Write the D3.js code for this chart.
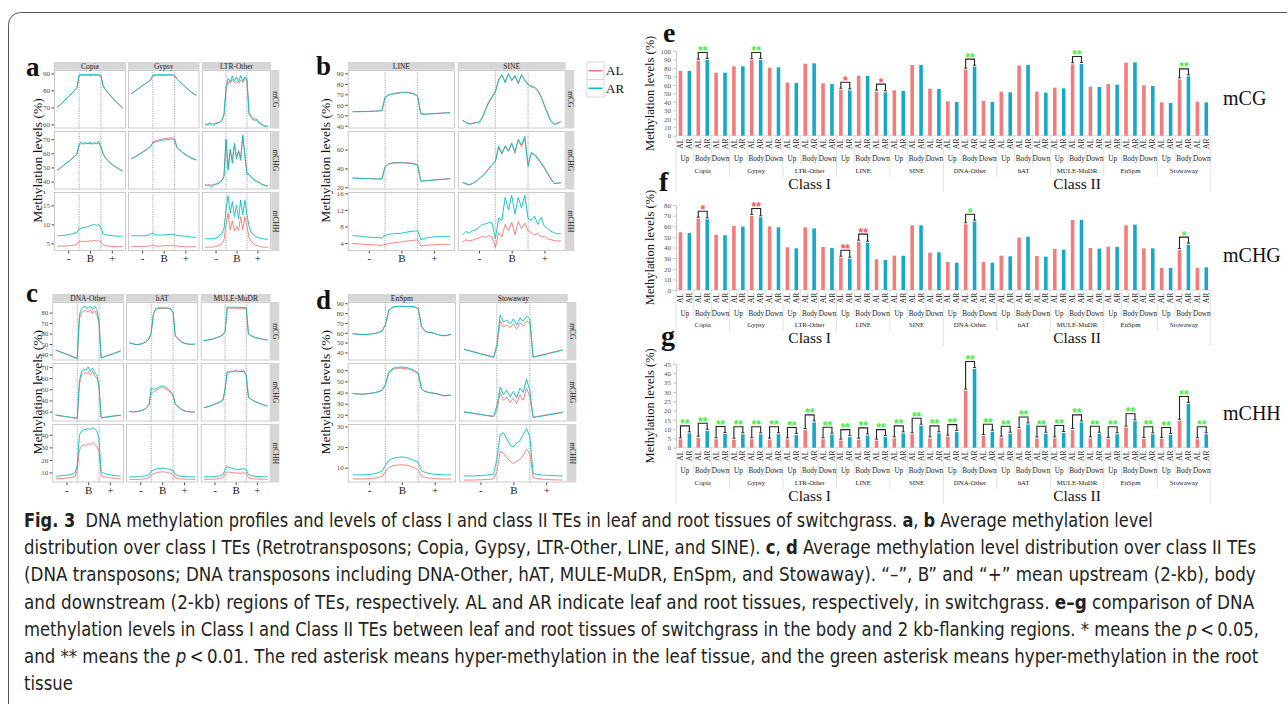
<!DOCTYPE html>
<html>
<head>
<meta charset="utf-8">
<script src="https://cdn.jsdelivr.net/npm/d3@7"></script>
<style>
body { margin: 0; background: #fff; }
svg { display: block; }
</style>
</head>
<body>
<script>
// ---- categories ----
const contexts = ['mCG', 'mCHG', 'mCHH']
const tissues = ['AL', 'AR']
const regions = ['Up', 'Body', 'Down']
const teNames = ['Copia', 'Gypsy', 'LTR-Other', 'LINE', 'SINE', 'DNA-Other', 'hAT', 'MULE-MuDR', 'EnSpm', 'Stowaway']
const classes = ['Class I', 'Class II']
const profileTicks = ['-', 'B', '+']

// ---- profile tick labels (per row) ----
const ticksA = [[60, 70, 80, 90], [40, 50, 60, 70], [5, 10, 15]]
const ticksB = [[40, 50, 60, 70, 80, 90], [20, 40, 60], [4, 8, 12, 16]]
const ticksC = [[40, 50, 60, 70, 80], [30, 40, 50, 60, 70], [10, 20, 30, 40]]
const ticksD = [[40, 50, 60, 70, 80, 90], [20, 30, 40, 50, 60], [10, 20, 30]]

// ---- methylation profiles (upstream | body | downstream) ----
const copia_CG_AL = [70,71.1,72.3,73.5,74.8,76,77.3,78.6,79.9,81.5,88.5,88.8,88.9,88.8,88.9,88.7,88.8,88.9,88.7,88.8,88.3,82.5,80.5,78.8,77.3,75.9,74.5,73.2,71.9,70.7,69.5]
const copia_CG_AR = [70.2,71.2,72.4,73.6,74.9,76.1,77.4,78.7,80,81.6,89,89.3,89.5,89.2,89.6,89.3,89.4,89.6,89.2,89.5,88.8,82.8,80.7,79,77.5,76,74.6,73.3,72,70.8,69.6]
const copia_CHG_AL = [48,49,50.2,51.5,52.8,54,55.3,56.6,57.8,59.3,66,67,66.5,67.2,66.8,67,66.6,67.1,66.7,67.3,65,59.5,57,55,53.5,52.2,51,50,49,48.2,47.5]
const copia_CHG_AR = [48.2,49.1,50.4,51.7,53,54.2,55,56.8,58,59.5,66.5,68,66.8,67.5,67,67.8,66.5,67.6,66.9,68.8,64,60,57.2,55.2,53.7,52.4,51.2,50.2,49.2,48.4,47.6]
const copia_CHH_AL = [4.3,4.3,4.3,4.3,4.3,4.4,4.4,4.5,4.6,4.8,5.4,5.5,5.5,5.6,5.5,5.7,5.6,5.8,5.6,5.7,5.3,4.6,4.4,4.3,4.3,4.2,4.2,4.2,4.2,4.2,4.2]
const copia_CHH_AR = [7,7,7.1,7.1,7.2,7.3,7.4,7.5,7.7,7.9,8.8,9,9.2,9.1,9.5,9.6,9.8,10,9.7,10,9.2,7.5,7.3,7.2,7.1,7,7,6.9,6.9,6.9,6.9]

const gypsy_CG_AL = [78,78.9,79.8,80.7,81.6,82.5,83.4,84.3,85.2,86.2,88.7,88.9,88.8,88.9,88.8,88.9,88.8,88.9,88.9,88.8,88.5,86.8,85.5,84.3,83.1,81.9,80.8,79.7,78.7,77.8,77]
const gypsy_CG_AR = [78.1,79,79.9,80.8,81.7,82.6,83.5,84.4,85.3,86.3,89,89.2,89.1,89.3,89.2,89.2,89.1,89.3,89.2,89.2,88.8,86.9,85.6,84.4,83.2,82,80.9,79.8,78.8,77.9,77.1]
const gypsy_CHG_AL = [56.2,57,57.9,58.8,59.8,60.8,61.8,62.8,63.9,65.2,68,68.8,69.2,69.6,70,70.3,70.6,70.8,70.9,71,70.5,64.8,63,61.7,60.5,59.4,58.4,57.5,56.7,56,55.5]
const gypsy_CHG_AR = [56,56.8,57.6,58.5,59.5,60.5,61.5,62.5,63.5,64.8,67.5,68,68.4,68.8,69.1,69.4,69.6,69.8,69.9,70,69.5,64.3,62.6,61.3,60.1,59,58,57.1,56.3,55.7,55.2]
const gypsy_CHH_AL = [4.2,4.2,4.2,4.2,4.2,4.2,4.2,4.2,4.3,4.4,4.6,4.3,4.3,4.3,4.3,4.4,4.4,4.4,4.4,4.4,4.4,4.3,4.2,4.2,4.2,4.1,4.1,4.1,4.1,4.1,4.1]
const gypsy_CHH_AR = [7,7,7,7,7,7,7,7.1,7.2,7.4,7.8,7.3,7.2,7.2,7.2,7.2,7.3,7.3,7.4,7.4,7.3,7.1,7,7,6.9,6.9,6.8,6.7,6.7,6.6,6.6]

const ltr_CG_AL = [60.5,60,61,60.3,60.2,60.8,61,61.5,62.5,65,80,85,84,86.5,84.5,85,84.2,86,84.5,87,86,67,65,63.5,62,63,61,60.5,59.5,59.2,59]
const ltr_CG_AR = [60,59.5,60.5,60,59.3,60.5,60.8,61.2,62.3,66,82,87,85,88.5,85.5,88,85,88.7,85.5,88,86.5,66,64,62.5,63.5,62,60.5,60,59,58.8,59]
const ltr_CHG_AL = [38,37.5,37.8,37.5,38,38.3,38.8,39.5,41,44,69,50,62,55,66,58,61,57,72,60,47,45,43.5,42,41,40,39.5,38.5,37.8,37.3,37]
const ltr_CHG_AR = [37.8,37.2,37.5,36,37.6,38,38.4,39.2,40.6,43.5,70,48,63,53,67,56,62,55,73,58,45,44.8,43,41.5,40.5,39.5,39,38,37.5,37,36.8]
const ltr_CHH_AL = [4,4,4,4,4.1,4.2,4.3,4.6,5,5.8,10,13,8.5,11,8.2,9.5,8.4,12,8.6,12,9.5,6.5,5.5,5,4.6,4.4,4.2,4.1,4,4,3.9]
const ltr_CHH_AR = [6.2,6.2,6.2,6.2,6.3,6.4,6.6,7,7.6,8.8,14,17.5,13,16,12,15,11.5,16.4,12.5,16.3,12.5,9.5,8,7.3,6.9,6.6,6.4,6.3,6.2,6.1,6.1]

const line_CG_AL = [53.5,53.5,53.6,53.6,53.7,53.8,53.9,54,54.2,54.5,67.5,69.5,70.5,71,71.5,72,72.2,72,71.5,70.5,68.5,51.5,51.2,51.3,51.5,51.7,51.9,52.1,52.3,52.5,52.6]
const line_CG_AR = [53.4,53.4,53.5,53.5,53.6,53.7,53.8,53.9,54.1,54.4,67,69,70,70.6,71,71.4,71.6,71.4,71,70,68,51.3,51,51.1,51.3,51.5,51.7,51.9,52.1,52.3,52.4]
const line_CHG_AL = [29.8,29.7,29.5,29.4,29.3,29.2,29.1,29,28.9,28.8,42,45,45.8,46.2,46.3,46.3,46.2,46,45.6,45,44,26.5,26.8,27.1,27.4,27.7,28,28.3,28.6,28.9,29.2]
const line_CHG_AR = [29.7,29.6,29.4,29.3,29.2,29.1,29,28.9,28.8,28.7,41.5,44.5,45.3,45.7,45.8,45.8,45.7,45.5,45.1,44.5,43.5,26.4,26.7,27,27.3,27.6,27.9,28.2,28.5,28.8,29.1]
const line_CHH_AL = [3.9,3.85,3.8,3.75,3.7,3.65,3.6,3.55,3.5,3.45,3.7,3.9,4,4.1,4.2,4.3,4.4,4.5,4.6,4.7,4.8,3.3,3.4,3.5,3.55,3.6,3.65,3.7,3.7,3.7,3.7]
const line_CHH_AR = [5.8,5.75,5.7,5.6,5.5,5.45,5.4,5.35,5.3,5.25,5.8,6.1,6.2,6.3,6.3,6.4,6.5,6.7,6.8,6.9,7,4.8,5.1,5.3,5.4,5.5,5.5,5.6,5.6,5.6,5.5]

const sine_CG_AL = [45,43,42,42.5,43,43.5,48,56,63,68,73,85,88,82,89,84,87,81,88,84,80,78,77,74,68,60,52,45,42,43,44]
const sine_CG_AR = [45,43.5,41.5,42,43,43,47,55,62,67,72,83,89,81,90,83,88,80,89,83,79,77,76,73,67,59,51,44,41,42,43.5]
const sine_CHG_AL = [25,24,22.5,24,26,29,32,36,40,44,48,62,55,63,58,66,56,70,63,72,45,56,54,50,45,40,34,28,24,24.5,25]
const sine_CHG_AR = [25,23.5,22.5,24,26,29,31.5,35,39,43.5,47,64,56,64,59,67,58,71,65,74,42,57,55,51,46,41,35,29,24,24.2,24.5]
const sine_CHH_AL = [4.3,4.8,4.5,4.7,5,5.2,5.6,5.4,5.8,5.5,3,6.5,5.5,8.5,7,9,6,9.2,7.5,8.8,7,6.5,6,6.3,5.5,5.6,5,4.8,4.6,4.5,4.6]
const sine_CHH_AR = [6,6.8,6.4,7,7.2,7.8,8.5,8.6,9,8.8,5,10,9.5,15,12,15.5,11,15,12.5,15.5,10,9.5,10.5,8.5,10.2,8,7.5,6.8,6.5,6.2,6.3]

const dna_CG_AL = [44.5,43.7,42.9,42.1,41.3,40.5,39.7,38.9,38.1,37.3,36.5,75,80,81.5,82,80.5,83,79,82,78,70,37,37.7,38.4,39.1,39.8,40.5,41.3,42.1,42.9,43.8]
const dna_CG_AR = [44,43.2,42.4,41.6,40.8,40,39.2,38.4,37.6,36.8,36,78,84,86,85.5,84,86.5,83,86,83,72,36.5,37.2,37.9,38.6,39.3,40,40.8,41.6,42.4,43.3]
const dna_CHG_AL = [26.8,26.5,26.2,25.9,25.6,25.3,25,24.7,24.4,24.1,24,55,63,65,64,66,63,66,62,60,52,24.2,24.5,24.8,25.1,25.4,25.7,26,26.2,26.4,26.5]
const dna_CHG_AR = [27,26.7,26.4,26.1,25.8,25.5,25.2,24.9,24.6,24.3,24.2,58,66,68,67,70,66,69,65,63,53,24.4,24.7,25,25.3,25.6,25.9,26.2,26.4,26.6,26.8]
const dna_CHH_AL = [5,5,5.1,5.2,5.3,5.5,5.7,5.9,6.2,6.6,12,28,31,32,31.5,33,32,33.5,32,31,26,7.5,6.8,6.3,6,5.7,5.5,5.3,5.2,5.1,5]
const dna_CHH_AR = [7,7.1,7.2,7.4,7.6,7.8,8.1,8.5,9,9.8,16,40,43,44,44.5,45,44,45.5,44.5,43,37,10.5,9.5,9,8.5,8.2,7.9,7.6,7.4,7.2,7]

const hat_CG_AL = [51,50.5,50,49.5,49.5,50,50.5,51.5,53,55,60,78,83,84,84,84,84,84,84,83,80,58,56,54,52,51,50.5,50,49.8,49.8,50]
const hat_CG_AR = [51.2,50.6,50,49.4,49.3,49.8,50.3,51.3,52.8,54.8,61,79,83.6,84.6,84.7,84.6,84.6,84.7,84.5,83.6,80.5,57.5,55.5,53.5,51.6,50.7,50.2,49.8,49.6,49.7,49.9]
const hat_CHG_AL = [30,29.8,29.7,29.8,30,30.5,31,32,33.5,35.5,46,48,49,50,51,51.5,51,50,48.5,46.5,44,36.5,34.5,33,31.5,30.5,30,29.8,29.6,29.5,29.5]
const hat_CHG_AR = [30.2,30,29.9,30,30.2,30.7,31.3,32.3,34,36.5,51,50,50.5,51.5,52.5,53,52.5,51.5,49.5,47.5,45,37,35,33.4,31.9,30.8,30.2,30,29.8,29.7,29.7]
const hat_CHH_AL = [4.5,4.5,4.5,4.5,4.5,4.6,4.7,4.9,5.2,5.7,8,9,9.5,10,10.3,10.5,10.4,10.2,9.8,9.3,8.5,5.8,5.3,5,4.8,4.7,4.6,4.5,4.5,4.5,4.5]
const hat_CHH_AR = [6.5,6.5,6.5,6.5,6.6,6.7,6.9,7.1,7.5,8.2,11,12,12.5,13,13.2,13.5,13.3,13,12.7,12.2,11.5,8.2,7.5,7.1,6.9,6.7,6.6,6.5,6.5,6.5,6.4]

const mule_CG_AL = [53.5,53.6,53.9,54.3,54.8,55.4,56.1,56.9,57.8,59,62,84.5,84.3,84.2,84.3,84.2,84.1,84.2,84,84,83.5,60,58.5,57.5,56.7,56,55.5,55,54.6,54.3,54]
const mule_CG_AR = [53.3,53.4,53.7,54.1,54.6,55.2,55.9,56.7,57.6,58.8,62,85.5,85.3,85.2,85.3,85.1,85.1,85.2,85,85,84.5,59.5,58,57,56.2,55.6,55.1,54.6,54.2,53.9,53.6]
const mule_CHG_AL = [33.5,34,34.6,35.2,35.9,36.6,37.4,38.2,39.2,40.5,50,65,66,65.5,66.5,67,66.5,66,67,66,62,43,41.5,40.3,39.3,38.4,37.6,36.9,36.2,35.6,35]
const mule_CHG_AR = [33.3,33.8,34.4,35,35.7,36.4,37.2,38,39,40.3,50,66,65,66.5,65.5,66.8,65.3,66.4,65.6,66.5,62,42.8,41.3,40.1,39.1,38.2,37.4,36.7,36,35.4,34.8]
const mule_CHH_AL = [4.5,4.5,4.5,4.6,4.6,4.7,4.8,5,5.3,5.8,8.5,10.5,10.2,10,9.8,9.6,9.5,9.4,9.5,9.8,9,5.8,5.3,5,4.9,4.8,4.7,4.6,4.6,4.5,4.5]
const mule_CHH_AR = [6.5,6.5,6.5,6.6,6.6,6.7,6.9,7.2,7.6,8.3,12,15,14,13.5,13,12.6,12.4,12.5,12.8,13,12,8.3,7.6,7.2,7,6.8,6.7,6.6,6.5,6.5,6.5]

const enspm_CG_AL = [59,58.8,58.5,58.3,58.3,58.5,59,59.5,60.5,62,68,82,85.5,86.3,86.5,86.5,86.4,86.3,86.3,86,84,66,61.5,60.3,60,59.2,58,57.2,57,57.5,58.3]
const enspm_CG_AR = [58.8,58.6,58.4,58.2,58.2,58.4,58.9,59.4,60.4,61.9,68.5,82.5,86,86.8,87,87,86.9,86.8,86.8,86.5,84.5,66.5,62,60.5,60.2,59.3,58.2,57.4,57.1,57.6,58.4]
const enspm_CHG_AL = [39,38.8,38.6,38.5,38.6,39,39.5,40,40.8,42,47,57,60.5,61.5,61.8,61.8,61.5,61,60,58.5,56.5,43,41,40,39.5,39.2,38.5,37.5,37,37.2,37.6]
const enspm_CHG_AR = [39.1,38.9,38.7,38.6,38.7,39.1,39.6,40.1,40.9,42.1,47.5,58,61.5,62.5,62.7,62.8,62.5,62,61,59.5,57.5,43.2,41.2,40.2,39.7,39.4,38.7,37.7,37.2,37.4,37.8]
const enspm_CHH_AL = [4.5,4.5,4.5,4.5,4.6,4.7,4.8,5,5.3,5.8,8,10,10.8,11.2,11.3,11.4,11.3,11,10.5,9.8,9,5.8,5.3,5,4.8,4.7,4.6,4.5,4.5,4.5,4.5]
const enspm_CHH_AR = [6.5,6.5,6.5,6.5,6.6,6.7,6.9,7.2,7.7,8.5,11,13.5,14.3,14.8,15,15.2,15,14.6,14,13.3,12.5,8.5,7.8,7.3,7,6.8,6.7,6.6,6.5,6.5,6.5]

const stow_CG_AL = [43.5,42.6,41.7,40.8,39.9,39,38.1,37.2,36.3,35.4,45,72,66,68,65,69,64,70,67,72,70,35.5,36.3,37.1,37.9,38.7,39.5,40.3,41.1,42,43]
const stow_CG_AR = [43,42.1,41.2,40.3,39.4,38.5,37.6,36.7,35.8,35,48,78,71,73,69,74,68,75,72,77,74,35,35.8,36.6,37.4,38.2,39,39.8,40.6,41.5,42.5]
const stow_CHG_AL = [22.5,22,21.6,21.1,20.6,20.2,19.7,19.2,18.8,18.3,24,40,33,36,31,35,30,38,33,44,36,18,18.5,19,19.5,20,20.5,21,21.5,22,22.5]
const stow_CHG_AR = [22.8,22.3,21.9,21.4,20.9,20.5,20,19.5,19.1,18.6,28,45,38,42,36,41,35,44,40,52,42,17.5,18,18.5,19,19.5,20,20.5,21,21.5,22]
const stow_CHH_AL = [4,4,4,4,4.1,4.1,4.2,4.3,4.4,4.6,8,18,17,15,13,12,13,14,16,19,17,5.2,4.8,4.5,4.4,4.3,4.2,4.1,4.1,4,4]
const stow_CHH_AR = [6,6,6,6,6.1,6.2,6.3,6.4,6.6,6.9,14,26,27,24,21,20,22,23,26,29,25,7.2,6.8,6.6,6.4,6.3,6.2,6.1,6.1,6,6]

// ---- bar levels (%), order: TE x (Up, Body, Down) ----
const mCG_AL = [76.4,88.6,74.4, 81.9,89,80.3, 62.6,85,61.8, 54.3,70.9,52, 53.5,83.5,55.5, 40.6,78,40.9, 52,82.7,52, 56.7,84.3,57.9, 61,86.2,59.4, 39.4,66.5,40.2]
const mCG_AR = [76.4,89.4,74.4, 81.9,89.4,80.7, 62.2,85.4,61, 53.5,70.5,51.2, 52.8,83.5,55.1, 39.8,81.5,39.8, 51.2,83.5,50.8, 55.9,84.6,57.5, 60.2,86.6,58.7, 38.6,70,39.4]
const mCHG_AL = [54.3,67.1,52, 60.5,69.6,59.9, 40.2,59,40.5, 30.4,45.5,28.9, 32.3,60.9,35.1, 26.4,61.8,26.4, 32.3,49.3,32, 38.6,65.9,39.5, 40.8,60.9,39.2, 20.7,37.6,21]
const mCHG_AR = [53.6,66.5,51.5, 59.6,68.4,59, 39.2,58,39.5, 29.5,44.5,28.2, 32.3,60.9,35.5, 25.7,64.3,25.7, 31.7,50.2,31.4, 38,65.9,38.9, 40.5,61.5,39.2, 20.7,42.7,21.3]
const mCHH_AL = [4.5,5.4,4.5, 4.3,4.5,4.3, 4.5,9.5,4.5, 3.8,4.3,3.8, 5,7.2,5, 5.9,30.7,6.3, 5.4,10,5, 5,9.5,5, 4.7,10.8,4.7, 4.7,14.5,4.5]
const mCHH_AR = [7.7,9.1,7.4, 7.2,7.2,7.2, 6.8,13.6,7, 5.7,6.6,5.7, 7.7,11.8,7.7, 8.4,42.3,8.6, 7.5,12.5,7.5, 7.9,13.6,7.5, 7.2,14.2,7.2, 6.8,23.5,7.2]
// significance: first char = colour (r leaf / g root), rest = stars
const mCG_sig = ['','g**','', '','g**','', '','','', 'r*','','r*', '','','', '','g**','', '','','', '','g**','', '','','', '','g**','']
const mCHG_sig = ['','r*','', '','r**','', '','','', 'r**','r**','', '','','', '','g*','', '','','', '','','', '','','', '','g*','']
const mCHH_sig = ['g**','g**','g**', 'g**','g**','g**', 'g**','g**','g**', 'g**','g**','g**', 'g**','g**','g**', 'g**','g**','g**', 'g**','g**','g**', 'g**','g**','g**', 'g**','g**','g**', 'g**','g**','g**']
const ticksE = [0,10,20,30,40,50,60,70,80,90,100]
const ticksF = [0,10,20,30,40,50,60,70,80]
const ticksG = [0,5,10,15,20,25,30,35,40,45]

// lookup built from the arrays above
const profiles = {
	'Copia': [[copia_CG_AL, copia_CG_AR], [copia_CHG_AL, copia_CHG_AR], [copia_CHH_AL, copia_CHH_AR]],
	'Gypsy': [[gypsy_CG_AL, gypsy_CG_AR], [gypsy_CHG_AL, gypsy_CHG_AR], [gypsy_CHH_AL, gypsy_CHH_AR]],
	'LTR-Other': [[ltr_CG_AL, ltr_CG_AR], [ltr_CHG_AL, ltr_CHG_AR], [ltr_CHH_AL, ltr_CHH_AR]],
	'LINE': [[line_CG_AL, line_CG_AR], [line_CHG_AL, line_CHG_AR], [line_CHH_AL, line_CHH_AR]],
	'SINE': [[sine_CG_AL, sine_CG_AR], [sine_CHG_AL, sine_CHG_AR], [sine_CHH_AL, sine_CHH_AR]],
	'DNA-Other': [[dna_CG_AL, dna_CG_AR], [dna_CHG_AL, dna_CHG_AR], [dna_CHH_AL, dna_CHH_AR]],
	'hAT': [[hat_CG_AL, hat_CG_AR], [hat_CHG_AL, hat_CHG_AR], [hat_CHH_AL, hat_CHH_AR]],
	'MULE-MuDR': [[mule_CG_AL, mule_CG_AR], [mule_CHG_AL, mule_CHG_AR], [mule_CHH_AL, mule_CHH_AR]],
	'EnSpm': [[enspm_CG_AL, enspm_CG_AR], [enspm_CHG_AL, enspm_CHG_AR], [enspm_CHH_AL, enspm_CHH_AR]],
	'Stowaway': [[stow_CG_AL, stow_CG_AR], [stow_CHG_AL, stow_CHG_AR], [stow_CHH_AL, stow_CHH_AR]]
}

const SERIF = '"Liberation Serif","Times New Roman",Times,serif'
const CAP = '"Liberation Sans Narrow","DejaVu Sans Condensed","Liberation Sans",sans-serif'
const lineCol = ['#F8766D', '#00BFC4']
const barCol = ['#F47B7B', '#14A9C9']
const starCol = {r: '#FF5252', g: '#45EE45'}

const svg = d3.select('body').append('svg').attr('width', 1287).attr('height', 704)
svg.append('rect').attr('width', 1287).attr('height', 704).attr('fill', '#fff')
svg.append('rect').attr('x', 8.5).attr('y', 12.5).attr('width', 1400).attr('height', 720)
	.attr('rx', 12).attr('fill', 'none').attr('stroke', '#555').attr('stroke-width', 1)

// ---------- facet grids (a-d) ----------
let drawGrid = function(G) {
	let nR = G.rows.length
	G.rows.forEach((r, ri) => {
		let y = d3.scaleLinear().domain(G.doms[ri]).range([r[1], r[0]])
		G.cols.forEach(c => {
			let w = c[2] - c[1], pad = w * 0.0455
			let x = d3.scaleLinear().domain([0, 1]).range([c[1] + pad, c[2] - pad])
			svg.append('rect').attr('x', c[1]).attr('y', r[0]).attr('width', w).attr('height', r[1] - r[0]).attr('fill', '#fff')
			;[1/3, 2/3].forEach(b => {
				svg.append('line').attr('x1', x(b)).attr('x2', x(b)).attr('y1', r[0]).attr('y2', r[1])
					.attr('stroke', '#8a8a8a').attr('stroke-width', 0.8).attr('stroke-dasharray', '1.2,1.2')
			})
			profiles[c[0]][ri].forEach((vals, ti) => {
				let ln = d3.line().x((d, i) => x(i / (vals.length - 1))).y(d => y(d))
				svg.append('path').attr('d', ln(vals)).attr('fill', 'none')
					.attr('stroke', lineCol[ti]).attr('stroke-width', 0.9).attr('stroke-linejoin', 'round')
			})
			svg.append('rect').attr('x', c[1] + 0.5).attr('y', r[0] + 0.5).attr('width', w - 1).attr('height', r[1] - r[0] - 1)
				.attr('fill', 'none').attr('stroke', '#bdbdbd').attr('stroke-width', 0.8)
			if (ri == nR - 1) {
				let ax = svg.append('g').attr('transform', `translate(0,${r[1]})`)
					.call(d3.axisBottom(x).tickValues([1/6, 1/2, 5/6]).tickFormat((d, i) => profileTicks[i]).tickSize(2.5).tickPadding(1))
				ax.select('.domain').remove()
				ax.selectAll('line').attr('stroke', '#444')
				ax.selectAll('text').attr('font-family', SERIF).attr('font-size', 11).attr('fill', '#222')
			}
		})
		let ay = svg.append('g').attr('transform', `translate(${G.cols[0][1]},0)`)
			.call(d3.axisLeft(y).tickValues(G.ticks[ri]).tickSize(2.5).tickPadding(1.5))
		ay.select('.domain').remove()
		ay.selectAll('line').attr('stroke', '#444')
		ay.selectAll('text').attr('font-family', SERIF).attr('font-size', 7).attr('fill', '#4d4d4d')
		// right strip
		svg.append('rect').attr('x', G.strip[0] + 0.3).attr('y', r[0]).attr('width', G.strip[1] - G.strip[0]).attr('height', r[1] - r[0])
			.attr('fill', '#d6d6d6')
		svg.append('text').attr('transform', `translate(${(G.strip[0] + G.strip[1]) / 2 + 0.3},${(r[0] + r[1]) / 2}) rotate(90)`)
			.attr('text-anchor', 'middle').attr('dy', '0.35em').attr('font-family', SERIF).attr('font-size', 7.5)
			.attr('fill', '#1a1a1a').text(contexts[ri])
	})
	G.cols.forEach(c => {
		svg.append('rect').attr('x', c[1]).attr('y', G.stripTop).attr('width', c[2] - c[1]).attr('height', G.rows[0][0] - G.stripTop - 0.3)
			.attr('fill', '#d6d6d6')
		svg.append('text').attr('x', (c[1] + c[2]) / 2).attr('y', (G.stripTop + G.rows[0][0]) / 2).attr('dy', '0.35em')
			.attr('text-anchor', 'middle').attr('font-family', SERIF).attr('font-size', 7.5).attr('fill', '#1a1a1a').text(c[0])
	})
	let yMid = (G.rows[0][0] + G.rows[nR - 1][1]) / 2
	svg.append('text').attr('transform', `translate(${G.titleX},${yMid}) rotate(-90)`).attr('text-anchor', 'middle')
		.attr('dy', '0.35em').attr('font-family', SERIF).attr('font-size', 13.5).attr('fill', '#111').text('Methylation levels (%)')
	svg.append('text').attr('x', G.letter[1]).attr('y', G.letter[2]).attr('font-family', SERIF).attr('font-weight', 'bold')
		.attr('font-size', 27).attr('fill', '#111').text(G.letter[0])
}

drawGrid({cols: [['Copia', 54, 126], ['Gypsy', 128, 199.5], ['LTR-Other', 202, 271]], strip: [271, 279], stripTop: 62,
	rows: [[70, 128.5], [131, 189.5], [192, 251]], doms: [[57.6, 92], [34.4, 75.8], [3, 18.5]], ticks: ticksA,
	titleX: 37, letter: ['a', 26, 76]})
drawGrid({cols: [['LINE', 347.7, 455], ['SINE', 457.7, 565.7]], strip: [565.7, 574], stripTop: 62,
	rows: [[70, 128.5], [131, 189.5], [192, 251]], doms: [[37.4, 93.2], [17.6, 79.7], [2.1, 16.3]], ticks: ticksB,
	titleX: 325, letter: ['b', 316, 75]})
drawGrid({cols: [['DNA-Other', 52.3, 124], ['hAT', 126, 198.3], ['MULE-MuDR', 200.7, 270.7]], strip: [270.7, 279], stripTop: 294,
	rows: [[302, 360.5], [363, 421.5], [424, 482.5]], doms: [[34.2, 90.2], [21.1, 73.6], [2, 48.6]], ticks: ticksC,
	titleX: 37, letter: ['c', 26, 302]})
drawGrid({cols: [['EnSpm', 347.7, 456], ['Stowaway', 459, 567.7]], strip: [567.7, 576], stripTop: 294,
	rows: [[302, 360.5], [363, 421.5], [424, 482.5]], doms: [[31.8, 91.3], [14, 66.5], [2.8, 31.2]], ticks: ticksD,
	titleX: 325, letter: ['d', 316, 309]})

// legend
tissues.forEach((t, i) => {
	let ky = 62 + i * 17.5
	svg.append('rect').attr('x', 587).attr('y', ky).attr('width', 17).attr('height', 17.5)
		.attr('fill', '#fff').attr('stroke', '#d0d0d0').attr('stroke-width', 0.8)
	svg.append('line').attr('x1', 588.5).attr('x2', 602.5).attr('y1', ky + 8.75).attr('y2', ky + 8.75)
		.attr('stroke', lineCol[i]).attr('stroke-width', 1.5)
	svg.append('text').attr('x', 606).attr('y', ky + 8.75).attr('dy', '0.35em').attr('font-family', SERIF)
		.attr('font-size', 13).attr('fill', '#111').text(t)
})

// ---------- bar charts (e-g) ----------
let drawBars = function(c) {
	let y = d3.scaleLinear().domain([0, c.ticks[c.ticks.length - 1]]).range([c.base, c.top])
	let x = d3.scaleBand().domain(d3.range(60)).range([676, 1210.7]).paddingInner(0.6).paddingOuter(0.3)
	let st = x.step(), X0 = 676, bw = x.bandwidth()
	let g = svg.append('g')

	for (let k = 0; k <= 30; k++) {
		let len = k % 15 == 0 ? 56 : (k % 3 == 0 ? 41 : 28)
		g.append('line').attr('x1', X0 + 2 * k * st).attr('x2', X0 + 2 * k * st).attr('y1', c.base).attr('y2', c.base + len)
			.attr('stroke', '#d9d9d9').attr('stroke-width', 0.8)
	}
	g.append('line').attr('x1', X0).attr('x2', 1210.7).attr('y1', c.base).attr('y2', c.base).attr('stroke', '#d0d0d0').attr('stroke-width', 0.8)

	let ay = g.append('g').attr('transform', `translate(${X0},0)`)
		.call(d3.axisLeft(y).tickValues(c.ticks).tickSize(3).tickSizeOuter(0).tickPadding(2))
	ay.select('.domain').attr('stroke', '#c8c8c8')
	ay.selectAll('.tick line').attr('stroke', '#c8c8c8')
	ay.selectAll('text').attr('font-family', SERIF).attr('font-size', 7).attr('fill', '#555')

	let rows = []
	c.al.forEach((v, p) => {
		rows.push({slot: 2 * p, v: v, t: 0})
		rows.push({slot: 2 * p + 1, v: c.ar[p], t: 1})
	})
	g.selectAll('rect.bar').data(rows).join('rect').attr('class', 'bar')
		.attr('x', d => x(d.slot)).attr('y', d => y(d.v)).attr('width', bw)
		.attr('height', d => c.base - y(d.v)).attr('fill', d => barCol[d.t])

	c.sig.forEach((s, p) => {
		if (!s) return
		let xl = x(2 * p) + bw / 2, xr = x(2 * p + 1) + bw / 2
		let yl = y(c.al[p]) - 1.5, yr = y(c.ar[p]) - 1.5
		let yt = Math.min(yl, yr) - 6
		g.append('path').attr('d', `M${xl},${yl}V${yt}H${xr}V${yr}`).attr('fill', 'none').attr('stroke', '#222').attr('stroke-width', 1.1)
		g.append('path').attr('d', `M${xl - 1.6},${yl}H${xl + 1.6}M${xr - 1.6},${yr}H${xr + 1.6}`).attr('stroke', '#222').attr('stroke-width', 0.9)
		g.append('text').attr('x', (xl + xr) / 2).attr('y', yt + 2.5).attr('text-anchor', 'middle')
			.attr('font-family', '"Liberation Sans",sans-serif').attr('font-weight', 'bold').attr('font-size', 12)
			.attr('fill', starCol[s[0]]).text(s.slice(1))
	})

	// multi-level category labels
	for (let s = 0; s < 60; s++) {
		g.append('text').attr('transform', `translate(${X0 + (s + 0.5) * st},${c.base + 8}) rotate(-90)`)
			.attr('text-anchor', 'middle').attr('dy', '0.35em').attr('font-family', SERIF).attr('font-size', 7.5)
			.attr('fill', '#222').text(tissues[s % 2])
	}
	for (let p = 0; p < 30; p++) {
		g.append('text').attr('x', X0 + (2 * p + 1) * st).attr('y', c.base + 23).attr('dy', '0.35em').attr('text-anchor', 'middle')
			.attr('font-family', SERIF).attr('font-size', 7.2).attr('fill', '#222').text(regions[p % 3])
	}
	teNames.forEach((n, k) => {
		g.append('text').attr('x', X0 + (6 * k + 3) * st).attr('y', c.base + 35).attr('dy', '0.35em').attr('text-anchor', 'middle')
			.attr('font-family', SERIF).attr('font-size', 6.8).attr('fill', '#222').text(n)
	})
	classes.forEach((n, j) => {
		g.append('text').attr('x', X0 + (30 * j + 15) * st).attr('y', c.base + 47.5).attr('dy', '0.35em').attr('text-anchor', 'middle')
			.attr('font-family', SERIF).attr('font-size', 15.5).attr('fill', '#111').text(n)
	})

	svg.append('text').attr('transform', `translate(650,${(c.base + c.top) / 2}) rotate(-90)`).attr('text-anchor', 'middle')
		.attr('dy', '0.35em').attr('font-family', SERIF).attr('font-size', 12.5).attr('fill', '#111').text('Methylation levels (%)')
	svg.append('text').attr('x', c.letter[1]).attr('y', c.letter[2]).attr('font-family', SERIF).attr('font-weight', 'bold')
		.attr('font-size', 28).attr('fill', '#111').text(c.letter[0])
	svg.append('text').attr('x', 1223).attr('y', c.labelY).attr('dy', '0.35em').attr('font-family', SERIF)
		.attr('font-size', 20).attr('fill', '#111').text(c.label)
}

drawBars({al: mCG_AL, ar: mCG_AR, sig: mCG_sig, ticks: ticksE, base: 135.7, top: 51, letter: ['e', 663, 42], label: 'mCG', labelY: 98})
drawBars({al: mCHG_AL, ar: mCHG_AR, sig: mCHG_sig, ticks: ticksF, base: 290, top: 205, letter: ['f', 659, 191], label: 'mCHG', labelY: 255})
drawBars({al: mCHH_AL, ar: mCHH_AR, sig: mCHH_sig, ticks: ticksG, base: 447.7, top: 364, letter: ['g', 661, 345], label: 'mCHH', labelY: 413})

// ---------- caption ----------
const capLines = [
	[['Fig. 3', 'b'], ['  DNA methylation profiles and levels of class I and class II TEs in leaf and root tissues of switchgrass. ', ''], ['a', 'b'], [', ', ''], ['b', 'b'], [' Average methylation level', '']],
	[['distribution over class I TEs (Retrotransposons; Copia, Gypsy, LTR-Other, LINE, and SINE). ', ''], ['c', 'b'], [', ', ''], ['d', 'b'], [' Average methylation level distribution over class II TEs', '']],
	[['(DNA transposons; DNA transposons including DNA-Other, hAT, MULE-MuDR, EnSpm, and Stowaway). \u201c\u2013\u201d, B\u201d and \u201c+\u201d mean upstream (2-kb), body', '']],
	[['and downstream (2-kb) regions of TEs, respectively. AL and AR indicate leaf and root tissues, respectively, in switchgrass. ', ''], ['e\u2013g', 'b'], [' comparison of DNA', '']],
	[['methylation levels in Class I and Class II TEs between leaf and root tissues of switchgrass in the body and 2 kb-flanking regions. * means the ', ''], ['p', 'i'], ['\u2009<\u20090.05,', '']],
	[['and ** means the ', ''], ['p', 'i'], ['\u2009<\u20090.01. The red asterisk means hyper-methylation in the leaf tissue, and the green asterisk means hyper-methylation in the root', '']],
	[['tissue', '']]
]
const capEnds = [1153, 1257, 1257, 1255, 1260, 1259, null]
let scales = []
capLines.forEach((segs, i) => {
	let yy = 527 + i * 27.2
	let t = svg.append('text').attr('transform', `translate(24,${yy})`).style('white-space', 'pre')
		.attr('font-family', CAP).attr('font-size', 19).attr('fill', '#231f20')
	segs.forEach(s => {
		t.append('tspan').attr('font-weight', s[1] == 'b' ? 'bold' : null).attr('font-style', s[1] == 'i' ? 'italic' : null).text(s[0])
	})
	let w = t.node().getBBox().width
	let sx = capEnds[i] ? (capEnds[i] - 24) / w : d3.mean(scales)
	if (capEnds[i]) scales.push(sx)
	t.attr('transform', `translate(24,${yy}) scale(${sx},1)`)
})
</script>
</body>
</html>
